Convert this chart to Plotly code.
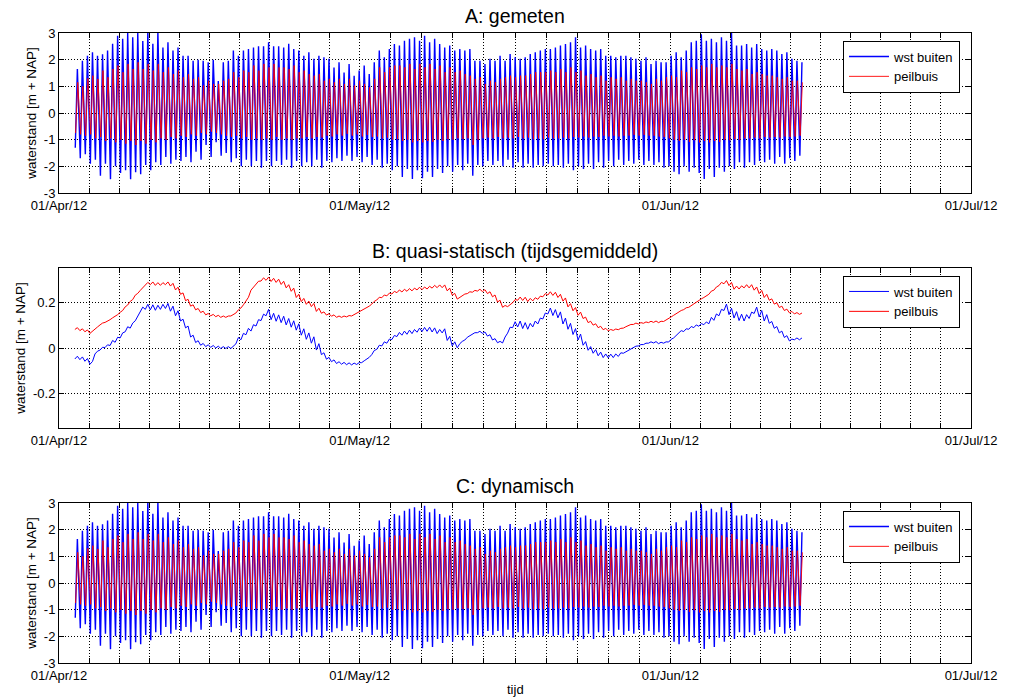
import plotly.graph_objects as go
from datetime import datetime, timedelta

FONT = "Liberation Sans, Arial, Helvetica, sans-serif"
W, H = 1009, 698

# ---------------- data ----------------
# tides are listed one entry per tide (high water / low water), in cm (panels A, C)
tide_start = datetime(2012, 4, 2, 20, 0)
tide_step_h = 12.05

A_blue_hw = [165,196,215,228,215,220,234,260,290,278,300,284,300,270,305,260,305,246,265,234,
             246,215,215,196,200,196,190,200,120,190,196,234,215,234,240,246,250,250,265,250,
             250,246,260,240,234,215,228,
             203,215,209,203,171,190,152,184,140,159,178,146,190,234,209,240,259,253,271,278,
             284,271,290,265,278,259,246,253,234,240,234,240,196,196,184,203,196,215,196,221,
             209,203,209,221,228,234,240,240,246,
             253,259,265,284,246,253,240,234,240,215,215,209,215,215,209,203,196,209,184,196,
             190,190,215,228,209,234,265,271,295,271,278,265,284,271,300,253,253,259,246,259,
             240,234,240,234,221,228,203,196,190]
A_blue_lw = [-130,-170,-155,-190,-175,-235,-190,-248,-200,-225,-215,-248,-222,-230,-195,-215,-185,-195,-165,-190,
             -175,-180,-165,-185,-145,-175,-120,-165,-110,-160,-150,-185,-170,-200,-175,-200,-180,-205,-180,-200,
             -180,-195,-175,-205,-180,-200,-185,
             -200,-175,-205,-180,-185,-170,-180,-160,-180,-165,-185,-165,-195,-175,-205,-190,-215,-200,-240,-210,
             -247,-215,-245,-220,-240,-210,-225,-200,-220,-195,-215,-190,-235,-195,-200,-180,-195,-180,-200,-175,
             -205,-185,-205,-190,-205,-195,-200,-190,-200,
             -195,-205,-190,-215,-200,-210,-190,-210,-185,-205,-180,-200,-175,-195,-180,-190,-175,-195,-180,-195,
             -185,-205,-200,-220,-230,-200,-220,-205,-225,-247,-210,-240,-205,-220,-200,-210,-185,-205,-185,-195,
             -180,-185,-175,-190,-165,-190,-170,-180,-160]
A_red_hw = [115,100,130,140,128,159,134,165,178,153,184,165,190,165,184,159,184,153,171,146,
            159,134,146,128,134,103,121,109,109,121,128,153,134,159,153,178,159,184,171,184,
            171,171,165,178,153,159,146,
            140,146,121,128,115,128,109,128,103,121,109,96,128,171,153,171,178,178,171,184,
            165,184,171,184,165,178,153,171,153,159,146,140,128,134,109,121,115,128,134,140,
            134,140,140,146,153,153,153,159,153,
            165,153,171,153,159,140,146,134,140,121,134,128,134,121,128,121,121,115,109,128,
            121,134,140,134,159,153,171,165,178,171,184,171,178,171,184,165,159,165,146,153,
            146,140,140,134,128,134,121,121,115]
A_red_lw = [-75,-80,-85,-80,-95,-90,-105,-95,-110,-100,-115,-105,-120,-105,-115,-100,-110,-95,-100,-90,
            -95,-85,-90,-80,-85,-75,-80,-70,-75,-80,-85,-90,-85,-95,-90,-100,-95,-100,-95,-100,
            -90,-100,-95,-100,-95,-95,-90,
            -95,-90,-92,-85,-88,-80,-85,-78,-85,-80,-88,-82,-90,-88,-95,-92,-100,-98,-105,-100,
            -110,-105,-110,-105,-108,-100,-105,-98,-100,-95,-98,-95,-120,-100,-95,-92,-95,-90,-95,-92,
            -95,-90,-95,-92,-98,-95,-98,-92,-95,
            -95,-92,-95,-90,-92,-88,-92,-88,-90,-85,-88,-85,-88,-85,-85,-82,-85,-82,-85,-85,
            -88,-90,-95,-100,-105,-100,-108,-102,-110,-105,-110,-105,-108,-100,-102,-98,-100,-95,-95,-92,
            -95,-90,-92,-90,-92,-88,-90,-88,-85]

# panel B: tidally averaged level per tide (mm) and half-range of the residual wiggle (mm)
B_blue_mean = [-42,-45,-52,-65,-20,-3,8,22,36,55,
               82,98,130,168,180,178,176,180,184,172,
               152,122,92,52,28,16,10,7,4,2,
               2,2,32,50,72,88,110,134,155,138,
               131,125,115,105,92,70,52,35,5,-25,
               -45,-56,-64,-67,-69,-70,-68,-60,-45,-20,
               3,18,30,46,59,65,69,72,78,81,
               82,79,72,75,42,18,10,32,50,64,
               70,67,55,38,26,35,78,102,105,98,
               95,105,118,140,162,155,145,118,95,72,
               48,20,-2,-15,-26,-34,-35,-34,-29,-20,
               -5,5,12,18,24,25,22,24,32,50,
               70,78,88,95,101,108,120,135,155,178,
               160,145,134,132,143,165,150,132,112,90,
               70,50,35,40,40]
B_blue_amp = [6,6,6,6,6,6,6, 11,11,11,11,11,11,11,11,11,11,11,11,11,11,
              4,4,4,4,4,4,4,4,4,4,4,
              14,14,14,14,14,14,14,14,14,14,14,14,14,14,14,14,14,
              4,4,4,4,4,4,4,4,4,4,
              9,9,9,9,9,9,9,9,9,9,9,9,9,9,9,9,9,9,
              3,3,3,3,3,3,3,3,
              13,13,13,13,13,13,13,13,13,13,13,13,13,13,13,13,
              8,8,8,8,8,8,8,8,
              3,3,3,3,3,3,3,3,3,
              6,6,6,6,6,6,6,6,
              14,14,14,14,14,14,14,14,14,14,14,14,
              4,4,4,4,4,4,4]
B_red_mean = [85,80,75,68,88,105,116,128,142,160,
              184,208,235,258,281,283,280,280,283,277,
              260,238,210,186,170,158,148,144,140,137,
              137,143,160,182,215,260,285,300,303,298,
              294,285,270,255,228,210,198,188,167,155,
              147,142,137,137,139,143,157,166,180,198,
              216,226,234,242,248,251,254,256,260,261,
              264,268,270,270,256,235,218,232,242,248,
              253,251,242,228,205,182,185,205,216,215,
              210,213,220,231,239,237,228,212,187,170,
              150,132,114,103,92,83,78,80,83,90,
              100,106,108,111,114,115,114,120,132,147,
              160,172,182,197,211,225,242,260,280,288,
              280,264,265,270,270,260,245,228,212,195,
              180,167,157,152,150]
B_red_amp = [4,4,4,4,4,4,4,4,4,4,4,4,4,
             6,6,6,6,6,6,6,6,
             3,3,3,3,3,3,3,3,3,3,3,
             7,7,7,7,7,7,7,7,7,7,7,7,7,7,7,7,7,
             3,3,3,3,3,3,3,3,3,3,
             6,6,6,6,6,6,6,6,6,6,6,6,6,6,6,6,
             4,4,4,4,4,4,4,4,4,4,4,4,
             7,7,7,7,7,7,7,7,7,7,7,7,7,7,
             3,3,3,3,3,3,3,3,3,3,3,3,3,3,3,3,
             4,4,4,4,4,4,4,4,4,
             7,7,7,7,7,7,7,7,7,7,7,7,
             3,3,3,3,3,3,3]

# panel C: dynamic part (read as practically identical to the measured series)
C_blue_hw = list(A_blue_hw)
C_blue_lw = list(A_blue_lw)
C_red_hw = list(A_red_hw)
C_red_lw = list(A_red_lw)

month_ticks = ["2012-04-01", "2012-05-01", "2012-06-01", "2012-07-01"]
month_labels = ["01/Apr/12", "01/May/12", "01/Jun/12", "01/Jul/12"]
titles = ["A: gemeten", "B: quasi-statisch (tijdsgemiddeld)", "C: dynamisch"]
series_names = ["wst buiten", "peilbuis"]
ylabel = "waterstand [m + NAP]"
xlabel = "tijd"

BLUE = "rgb(0,0,255)"
RED = "rgb(255,0,0)"

# ---------------- helpers ----------------
def tide_xy(hi, lo, lo_off, hi_off, scale):
    xs, ys = [], []
    for k, (h, l) in enumerate(zip(hi, lo)):
        tk = tide_start + timedelta(hours=k * tide_step_h)
        xs.append(tk + timedelta(hours=lo_off * tide_step_h)); ys.append(l / scale)
        xs.append(tk + timedelta(hours=hi_off * tide_step_h)); ys.append(h / scale)
    return xs, ys

fig = go.Figure()

panels = [
    (A_blue_hw, A_blue_lw, A_red_hw, A_red_lw, 100.0),
    ([m + a for m, a in zip(B_blue_mean, B_blue_amp)], [m - a for m, a in zip(B_blue_mean, B_blue_amp)],
     [m + a for m, a in zip(B_red_mean, B_red_amp)], [m - a for m, a in zip(B_red_mean, B_red_amp)], 1000.0),
    (C_blue_hw, C_blue_lw, C_red_hw, C_red_lw, 100.0),
]
legend_ids = ["legend", "legend2", "legend3"]
for i, (bh, bl, rh, rl, sc) in enumerate(panels):
    ax = "" if i == 0 else str(i + 1)
    if i == 1:
        bx, by = tide_xy(bh, bl, -0.5, 0.0, sc)
        rx, ry = tide_xy(rh, rl, -0.5, 0.0, sc)
        bw, rw = 1, 1
    else:
        bx, by = tide_xy(bh, bl, -0.42, 0.0, sc)
        rx, ry = tide_xy(rh, rl, -0.36, 0.08, sc)
        bw, rw = 1.4, 0.9
    fig.add_trace(go.Scatter(x=bx, y=by, mode="lines", name=series_names[0],
                             line=dict(color=BLUE, width=bw), xaxis="x" + ax, yaxis="y" + ax,
                             legend=legend_ids[i]))
    fig.add_trace(go.Scatter(x=rx, y=ry, mode="lines", name=series_names[1],
                             line=dict(color=RED, width=rw), xaxis="x" + ax, yaxis="y" + ax,
                             legend=legend_ids[i]))

# minor (3-day-ish) grid positions: each month split into 10 parts
minor_vals = []
for a, b in zip(month_ticks[:-1], month_ticks[1:]):
    da, db = datetime.fromisoformat(a), datetime.fromisoformat(b)
    for j in range(1, 10):
        minor_vals.append(da + (db - da) * j / 10)

GRID = dict(showgrid=True, gridcolor="black", griddash="1px,2px", gridwidth=1)
common = dict(showline=True, linecolor="black", linewidth=1, mirror="allticks",
              ticks="inside", ticklen=5, tickcolor="black", zeroline=False, automargin=False,
              tickfont=dict(family=FONT, size=13, color="black"), **GRID)

px_panels = [(33, 193), (268, 428), (503, 663)]
xdom = [59 / W, 971 / W]
yranges = [[-3, 3], [-0.35, 0.35], [-3, 3]]
yticks = [[-3, -2, -1, 0, 1, 2, 3], [-0.2, 0, 0.2], [-3, -2, -1, 0, 1, 2, 3]]
yticktext = [["-3", "-2", "-1", "0", "1", "2", "3"], ["-0.2", "0", "0.2"],
             ["-3", "-2", "-1", "0", "1", "2", "3"]]

layout = dict(width=W, height=H, margin=dict(l=0, r=0, t=0, b=0, autoexpand=False),
              paper_bgcolor="white", plot_bgcolor="white",
              font=dict(family=FONT, size=13, color="black"))
annotations = []
for i, (top, bot) in enumerate(px_panels):
    ax = "" if i == 0 else str(i + 1)
    ydom = [1 - bot / H, 1 - top / H]
    layout["xaxis" + ax] = dict(domain=xdom, anchor="y" + ax, type="date",
                                range=[month_ticks[0], month_ticks[-1]],
                                tickmode="array", tickvals=month_ticks, ticktext=month_labels,
                                minor=dict(tickmode="array", tickvals=minor_vals, ticks="inside",
                                           ticklen=5, tickcolor="black", **GRID),
                                **common)
    layout["yaxis" + ax] = dict(domain=ydom, anchor="x" + ax, range=yranges[i],
                                tickmode="array", tickvals=yticks[i], ticktext=yticktext[i],
                                title=dict(text=ylabel, font=dict(family=FONT, size=13.5, color="black"),
                                           standoff=4),
                                **common)
    lg = dict(x=843 / W, y=1 - (top + 7.5) / H, xanchor="left", yanchor="top",
              bgcolor="white", bordercolor="black", borderwidth=1,
              font=dict(family=FONT, size=13, color="black"), itemwidth=40,
              tracegroupgap=0)
    layout[legend_ids[i]] = lg
    annotations.append(dict(text=titles[i], x=515 / W, y=1 - (top - 17) / H, xref="paper",
                            yref="paper", xanchor="center", yanchor="middle", showarrow=False,
                            font=dict(family=FONT, size=19.5, color="black")))
annotations.append(dict(text=xlabel, x=515 / W, y=1 - 689 / H, xref="paper", yref="paper",
                        xanchor="center", yanchor="middle", showarrow=False,
                        font=dict(family=FONT, size=13, color="black")))
layout["annotations"] = annotations
fig.update_layout(**layout)

fig.write_html("out.html")
